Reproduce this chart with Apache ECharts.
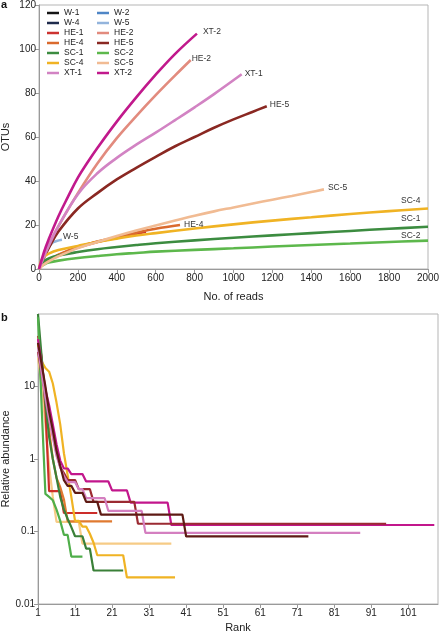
<!DOCTYPE html>
<html><head><meta charset="utf-8">
<script src="https://cdn.jsdelivr.net/npm/echarts@6/dist/echarts.min.js"></script>
<style>html,body{margin:0;padding:0;background:#fff}#c{width:440px;height:634px}</style>
</head><body><div id="c"></div>
<script>
// ---------- Panel a : rarefaction curves [No. of reads, OTUs] ----------
const rareW1 = [];
const rareW2 = [];
const rareW4 = [];
const rareW5 = [[0,0],[20,5],[40,8.5],[67,11.8],[90,12.7],[118,13.3]];
const rareHE1 = [[0,0],[25,2.5],[50,4],[100,6.3],[200,9.8],[300,12.3],[400,14.3],[550,17]];
const rareHE2 = [[0,0],[25,6],[50,11],[100,19.5],[200,34.5],[300,48],[400,59.5],[500,69.5],[600,79],[700,88],[780,95]];
const rareHE4 = [[0,0],[25,2.5],[50,4],[100,6.5],[200,10],[300,12.5],[400,14.5],[500,16.5],[600,18.3],[725,20]];
const rareHE5 = [[0,0],[25,5],[50,9.5],[100,17],[200,27.5],[300,34.5],[400,40.7],[500,46],[600,51],[700,55.8],[800,60],[900,64.2],[1000,68],[1100,71.5],[1171,74]];
const rareSC1 = [[0,0],[10,2],[25,3.5],[50,4.8],[100,6.1],[200,7.7],[300,9],[400,10],[500,10.9],[600,11.7],[800,13],[1000,14.2],[1200,15.3],[1400,16.3],[1600,17.3],[1800,18.3],[2000,19.2]];
const rareSC2 = [[0,0],[10,1.2],[25,2],[50,2.9],[100,3.8],[200,5],[300,5.9],[400,6.7],[500,7.3],[600,7.9],[800,8.7],[1000,9.4],[1200,10.2],[1400,10.9],[1600,11.6],[1800,12.3],[2000,12.9]];
const rareSC4 = [[0,0],[10,3.5],[25,5.5],[50,7],[100,8.6],[200,10.5],[300,12.3],[400,13.8],[500,15.2],[600,16.3],[800,18.4],[1000,20.3],[1200,22],[1400,23.5],[1600,25],[1800,26.3],[2000,27.5]];
const rareSC5 = [[0,0],[25,2],[50,3.5],[100,5.8],[200,9.5],[300,12.3],[400,15],[500,17.5],[600,19.8],[700,22],[800,24.2],[900,26.2],[1000,28],[1100,29.8],[1200,31.5],[1300,33.2],[1400,35],[1465,36.2]];
const rareXT1 = [[0,0],[25,5.5],[50,10.5],[100,19.5],[200,34],[300,43.5],[400,50.5],[500,56.5],[600,62],[700,67.7],[800,73.5],[900,79.5],[1042,88.5]];
const rareXT2 = [[0,0],[25,7.5],[50,13.5],[100,24],[150,33],[200,41.5],[250,48.5],[300,55],[400,67],[500,78],[600,88.3],[700,97.8],[812,107]];

// ---------- Panel b : rank-abundance [Rank, Relative abundance %] ----------
const rankHE1 = [[1,50],[2,25],[3,5],[4,0.36],[7,0.36],[8,0.18],[17,0.18]];
const rankHE2 = [[1,30],[2,15],[3,8],[4,4],[5,2.2],[6,1.2],[7,0.77],[8,0.64],[9,0.513],[11,0.513],[12,0.385],[15,0.385],[16,0.256],[27,0.256],[28,0.128],[95,0.128]];
const rankHE4 = [[1,40],[2,18],[3,7],[4,2.5],[5,1],[6,0.55],[7,0.41],[8,0.276],[9,0.138],[21,0.138]];
const rankHE5 = [[1,40],[2,20],[3,10],[4,4.5],[5,2.5],[6,1.3],[7,0.8],[8,0.51],[9,0.427],[10,0.427],[11,0.342],[13,0.342],[14,0.256],[17,0.256],[18,0.171],[40,0.171],[41,0.0854],[74,0.0854]];
const rankSC1 = [[1,100],[2,25],[3,6],[4,2],[5,1],[6,0.55],[7,0.3],[8,0.2],[9,0.15],[10,0.115],[11,0.086],[13,0.086],[14,0.058],[15,0.058],[16,0.029],[24,0.029]];
const rankSC2 = [[1,90],[2,5],[3,0.33],[4,0.3],[5,0.27],[6,0.2],[7,0.14],[8,0.09],[9,0.09],[10,0.045],[13,0.045]];
const rankSC4 = [[1,38],[2,22],[3,18],[4,16],[5,11],[6,6],[7,3],[8,1.2],[9,0.6],[10,0.3],[11,0.14],[12,0.14],[13,0.117],[14,0.117],[15,0.093],[16,0.07],[17,0.047],[24,0.047],[25,0.0233],[38,0.0233]];
const rankSC5 = [[1,25],[2,10],[3,3],[4,0.8],[5,0.3],[6,0.136],[12,0.136],[13,0.068],[37,0.068]];
const rankXT1 = [[1,35],[2,15],[3,7],[4,3.5],[5,2],[6,1.1],[7,0.77],[8,0.58],[9,0.48],[11,0.48],[12,0.384],[13,0.384],[14,0.288],[19,0.288],[20,0.192],[29,0.192],[30,0.096],[88,0.096]];
const rankXT2 = [[1,45],[2,20],[3,9],[4,5.5],[5,3],[6,1.6],[7,0.95],[8,0.74],[9,0.74],[10,0.62],[13,0.62],[14,0.49],[20,0.49],[21,0.37],[25,0.37],[26,0.25],[36,0.25],[37,0.123],[108,0.123]];

// ---------- tick labels ----------
const ticksReads = [0,200,400,600,800,1000,1200,1400,1600,1800,2000];
const ticksOTUs = [0,20,40,60,80,100,120];
const ticksRank = [1,11,21,31,41,51,61,71,81,91,101];
const ticksAbund = [0.01,0.1,1,10];

const legendLeft = ['W-1','W-4','HE-1','HE-4','SC-1','SC-4','XT-1'];
const legendRight = ['W-2','W-5','HE-2','HE-5','SC-2','SC-5','XT-2'];

const colA = {'W-1':'#151515','W-2':'#4f86c6','W-4':'#1f2b4c','W-5':'#93b4dc','HE-1':'#cc3330','HE-2':'#e28b7e','HE-4':'#da6a2e','HE-5':'#8a2822','SC-1':'#3c8c40','SC-2':'#5db84c','SC-4':'#f0b324','SC-5':'#f1bb93','XT-1':'#d283c3','XT-2':'#c1198c'};
const colB = {'HE-1':'#cc2d2a','HE-2':'#9b2a32','HE-4':'#e07a30','HE-5':'#5e1a14','SC-1':'#3a8038','SC-2':'#4fae4a','SC-4':'#f0b323','SC-5':'#f6cb86','XT-1':'#d47fc0','XT-2':'#c2168c'};

const FONT = "'Liberation Sans', Arial, sans-serif";
const labelOpts = {
  'W-5':[1,-3],'HE-4':[4,0],'HE-2':[1,-1],'XT-2':[6,-2],'XT-1':[3,-1],'HE-5':[3,-2],'SC-5':[4,-2],
  'SC-4':[-27,-8],'SC-1':[-27,-8],'SC-2':[-27,-5]
};

const seriesA = [
  ['W-1',rareW1],['W-2',rareW2],['W-4',rareW4],['W-5',rareW5],['HE-1',rareHE1],['HE-2',rareHE2],['HE-4',rareHE4],['HE-5',rareHE5],
  ['SC-1',rareSC1],['SC-2',rareSC2],['SC-4',rareSC4],['SC-5',rareSC5],['XT-1',rareXT1],['XT-2',rareXT2]
].map(([n,d]) => ({
  name:n, type:'line', xAxisIndex:0, yAxisIndex:0, data:d, showSymbol:false, symbol:'none',
  smooth:0.4,
  lineStyle:{width:2.6, color:colA[n]}, itemStyle:{color:colA[n]},
  endLabel: labelOpts[n] ? {show:true, formatter:n, fontSize:8.5, fontFamily:FONT, color:'#333', distance:0, offset:labelOpts[n]} : {show:false}
}));

const seriesB = [
  ['SC-5',rankSC5],['HE-1',rankHE1],['HE-4',rankHE4],['SC-4',rankSC4],['SC-1',rankSC1],['SC-2',rankSC2],
  ['XT-2',rankXT2],['HE-2',rankHE2],['XT-1',rankXT1],['HE-5',rankHE5]
].map(([n,d]) => ({
  name:n, type:'line', xAxisIndex:1, yAxisIndex:1, data:d, showSymbol:false, symbol:'none',
  lineStyle:{width:2.2, color:colB[n]}, itemStyle:{color:colA[n]}
}));

const axLine = {show:true, lineStyle:{color:'#9a9a9a', width:1}};
const axTick = {show:true, length:4, inside:false, lineStyle:{color:'#9a9a9a'}};
const lab = {fontSize:10, color:'#222', fontFamily:FONT};

const legendCommon = {orient:'vertical', top:8, itemGap:0, itemWidth:12, itemHeight:2.5, icon:'rect',
  textStyle:{fontSize:8.5, lineHeight:10, color:'#222', fontFamily:FONT}, padding:0};

const option = {
  animation:false,
  backgroundColor:'#fff',
  textStyle:{fontFamily:FONT},
  title:[
    {text:'a', left:1, top:-1, padding:0, textStyle:{fontSize:11, fontWeight:'bold', color:'#111', fontFamily:FONT}},
    {text:'b', left:1, top:312, padding:0, textStyle:{fontSize:11, fontWeight:'bold', color:'#111', fontFamily:FONT}}
  ],
  legend:[
    Object.assign({data:legendLeft, left:47}, legendCommon),
    Object.assign({data:legendRight, left:97}, legendCommon)
  ],
  grid:[
    {left:39, right:12, top:5, height:264, show:true, borderColor:'#b5b5b5', borderWidth:1, containLabel:false, outerBoundsMode:'none'},
    {left:38, right:2, top:314, height:290, show:true, borderColor:'#b5b5b5', borderWidth:1, containLabel:false, outerBoundsMode:'none'}
  ],
  xAxis:[
    {gridIndex:0, type:'value', min:ticksReads[0], max:ticksReads[ticksReads.length-1], interval:ticksReads[1]-ticksReads[0],
     name:'No. of reads', nameLocation:'middle', nameGap:22, nameMoveOverlap:false, nameTextStyle:{fontSize:11, color:'#222', fontFamily:FONT},
     axisLine:axLine, axisTick:axTick, splitLine:{show:false},
     axisLabel:Object.assign({margin:4, formatter:v => String(v)}, lab)},
    {gridIndex:1, type:'value', min:ticksRank[0], max:109, interval:ticksRank[1]-ticksRank[0],
     name:'Rank', nameLocation:'middle', nameGap:18, nameMoveOverlap:false, nameTextStyle:{fontSize:11, color:'#222', fontFamily:FONT},
     axisLine:axLine, axisTick:axTick, splitLine:{show:false},
     axisLabel:Object.assign({margin:4, showMaxLabel:false, formatter:v => ticksRank.includes(v) ? String(v) : ''}, lab)}
  ],
  yAxis:[
    {gridIndex:0, type:'value', min:ticksOTUs[0], max:ticksOTUs[ticksOTUs.length-1], interval:ticksOTUs[1]-ticksOTUs[0],
     name:'OTUs', nameLocation:'middle', nameGap:28, nameMoveOverlap:false, nameTextStyle:{fontSize:11, color:'#222', fontFamily:FONT},
     axisLine:axLine, axisTick:axTick, splitLine:{show:false}, axisLabel:Object.assign({margin:3, formatter:v => String(v)}, lab)},
    {gridIndex:1, type:'log', logBase:10, min:ticksAbund[0], max:100,
     name:'Relative abundance', nameLocation:'middle', nameGap:27, nameMoveOverlap:false, nameTextStyle:{fontSize:11, color:'#222', fontFamily:FONT},
     axisLine:axLine, axisTick:axTick, splitLine:{show:false}, minorTick:{show:false},
     axisLabel:Object.assign({margin:3, showMaxLabel:false, formatter:v => {const f = ticksAbund.find(t => Math.abs(Math.log10(t)-Math.log10(v))<1e-6); return f!==undefined ? String(f) : '';}}, lab)}
  ],
  series: seriesA.concat(seriesB)
};

const chart = echarts.init(document.getElementById('c'), null, {renderer:'canvas'});
chart.setOption(option);
</script></body></html>
